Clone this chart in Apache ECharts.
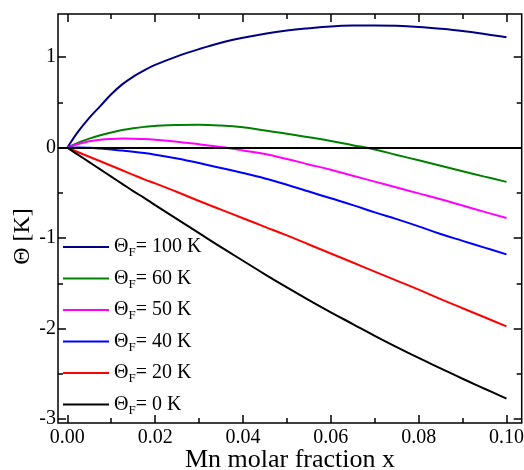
<!DOCTYPE html>
<html>
<head>
<meta charset="utf-8">
<script src="https://cdn.jsdelivr.net/npm/echarts@6/dist/echarts.min.js"></script>
<style>
  html, body { margin: 0; padding: 0; background: #fff; }
  #chart { width: 524px; height: 470px; }
</style>
</head>
<body>
<div id="chart"></div>
<script>
// Mn molar fraction x (abscissa shared by all curves)
const xFraction = [0, 0.0025, 0.005, 0.0075, 0.01, 0.0125, 0.015, 0.0175, 0.02, 0.025,
  0.03, 0.035, 0.04, 0.045, 0.05, 0.055, 0.06, 0.065, 0.07, 0.075, 0.08, 0.085, 0.09, 0.095, 0.1];

// Θ [K] for each ferromagnetic Curie–Weiss temperature Θ_F
const theta100 = [0, 0.18, 0.33, 0.46, 0.59, 0.70, 0.785, 0.855, 0.915, 1.01,
  1.09, 1.16, 1.215, 1.26, 1.295, 1.32, 1.34, 1.35, 1.352, 1.348, 1.335, 1.315, 1.29, 1.257, 1.22];
const theta60 = [0, 0.055, 0.10, 0.137, 0.168, 0.195, 0.215, 0.23, 0.241, 0.252,
  0.254, 0.245, 0.225, 0.19, 0.155, 0.115, 0.075, 0.028, -0.02, -0.08, -0.14, -0.20, -0.26, -0.32, -0.378];
const theta50 = [0, 0.04, 0.07, 0.088, 0.097, 0.101, 0.10, 0.096, 0.088, 0.066,
  0.038, 0.007, -0.03, -0.07, -0.125, -0.185, -0.245, -0.31, -0.375, -0.44, -0.505, -0.57, -0.64, -0.71, -0.778];
const theta40 = [0, 0.002, -0.002, -0.01, -0.02, -0.032, -0.045, -0.06, -0.078, -0.12,
  -0.17, -0.225, -0.28, -0.34, -0.41, -0.485, -0.56, -0.635, -0.715, -0.79, -0.87, -0.955, -1.03, -1.105, -1.18];
const theta20 = [0, -0.05, -0.1, -0.15, -0.2, -0.25, -0.3, -0.35, -0.395, -0.49,
  -0.59, -0.685, -0.78, -0.875, -0.97, -1.07, -1.17, -1.27, -1.37, -1.47, -1.57, -1.675, -1.775, -1.875, -1.975];
const theta0 = [0, -0.08, -0.16, -0.24, -0.32, -0.40, -0.48, -0.555, -0.635, -0.79,
  -0.945, -1.10, -1.25, -1.40, -1.545, -1.685, -1.82, -1.95, -2.08, -2.205, -2.325, -2.44, -2.555, -2.665, -2.775];

const curveTemps = [100, 60, 50, 40, 20, 0];
const curveValues = [theta100, theta60, theta50, theta40, theta20, theta0];
const curveColors = ['#000080', '#008000', '#ff00ff', '#0000ff', '#ff0000', '#000000'];

// tick positions and labels
const xMajorTicks = [0, 0.02, 0.04, 0.06, 0.08, 0.1];
const xMinorTicks = [0.01, 0.03, 0.05, 0.07, 0.09];
const yMajorTicks = [-3, -2, -1, 0, 1];
const yMinorTicks = [-2.5, -1.5, -0.5, 0.5];

// axis extents (frame edges)
const X_MIN = -0.00212, X_MAX = 0.10346;
const Y_MIN = -3.044, Y_MAX = 1.478;

const FONT = 'Liberation Serif';

function xAxisDef(position, ticks, len, withLabels) {
  return {
    type: 'value', position: position, min: X_MIN, max: X_MAX,
    axisLine: { show: false, onZero: false },
    splitLine: { show: false },
    axisTick: { show: true, inside: true, length: len, customValues: ticks,
      lineStyle: { color: '#000', width: 1.5 } },
    axisLabel: withLabels ? {
      show: true, customValues: ticks, margin: 5,
      formatter: v => v.toFixed(2),
      fontFamily: FONT, fontSize: 20, color: '#000'
    } : { show: false }
  };
}
function yAxisDef(position, ticks, len, withLabels) {
  return {
    type: 'value', position: position, min: Y_MIN, max: Y_MAX,
    axisLine: { show: false, onZero: false },
    splitLine: { show: false },
    axisTick: { show: true, inside: true, length: len, customValues: ticks,
      lineStyle: { color: '#000', width: 1.5 } },
    axisLabel: withLabels ? {
      show: true, customValues: ticks, margin: 2,
      formatter: v => String(v),
      fontFamily: FONT, fontSize: 20, color: '#000'
    } : { show: false }
  };
}

const chart = echarts.init(document.getElementById('chart'), null, { renderer: 'canvas' });

const series = [{
  name: 'zero',
  type: 'line',
  xAxisIndex: 0, yAxisIndex: 0,
  data: [],
  silent: true,
  markLine: {
    silent: true, symbol: 'none', label: { show: false },
    lineStyle: { color: '#000', width: 2, type: 'solid' },
    data: [{ yAxis: 0 }]
  }
}];
curveTemps.forEach((t, i) => {
  series.push({
    name: 'ΘF = ' + t + ' K',
    type: 'line',
    xAxisIndex: 0, yAxisIndex: 0,
    symbol: 'none', showSymbol: false,
    smooth: 0.4,
    lineStyle: { color: curveColors[i], width: 2 },
    itemStyle: { color: curveColors[i] },
    data: xFraction.map((x, k) => [x, curveValues[i][k]])
  });
});

chart.setOption({
  animation: false,
  backgroundColor: '#fff',
  grid: {
    left: 58, right: 2.3, top: 14, bottom: 47,
    containLabel: false, outerBoundsMode: 'none',
    show: true, borderColor: '#000', borderWidth: 1.5, backgroundColor: 'transparent'
  },
  xAxis: [
    xAxisDef('bottom', xMajorTicks, 8, true),
    xAxisDef('bottom', xMinorTicks, 5, false),
    xAxisDef('top', xMajorTicks, 8, false),
    xAxisDef('top', xMinorTicks, 5, false)
  ],
  yAxis: [
    yAxisDef('left', yMajorTicks, 8, true),
    yAxisDef('left', yMinorTicks, 5, false),
    yAxisDef('right', yMajorTicks, 8, false),
    yAxisDef('right', yMinorTicks, 5, false)
  ],
  legend: {
    show: true,
    orient: 'vertical',
    left: 63, top: 237,
    padding: 0,
    icon: 'rect',
    itemWidth: 46, itemHeight: 2, itemGap: 9,
    selectedMode: false,
    data: curveTemps.map(t => 'ΘF = ' + t + ' K'),
    formatter: name => {
      const t = name.replace('ΘF = ', '');
      return '{a|Θ}{s|F}{a|= ' + t + '}';
    },
    textStyle: {
      fontFamily: FONT, fontSize: 20, color: '#000',
      rich: {
        a: { fontFamily: FONT, fontSize: 20, color: '#000' },
        s: { fontFamily: FONT, fontSize: 13, color: '#000', padding: [12, 0, 0, 0] }
      }
    }
  },
  graphic: [
    {
      type: 'text', x: 290, y: 460,
      style: { text: 'Mn molar fraction x', font: '26px "Liberation Serif"', fill: '#000',
        textAlign: 'center', textVerticalAlign: 'middle' }
    },
    {
      type: 'text', x: 23, y: 236.5, rotation: Math.PI / 2,
      style: { text: 'Θ [K]', font: '24px "Liberation Serif"', fill: '#000',
        textAlign: 'center', textVerticalAlign: 'middle' }
    }
  ],
  series: series
});
</script>
</body>
</html>
